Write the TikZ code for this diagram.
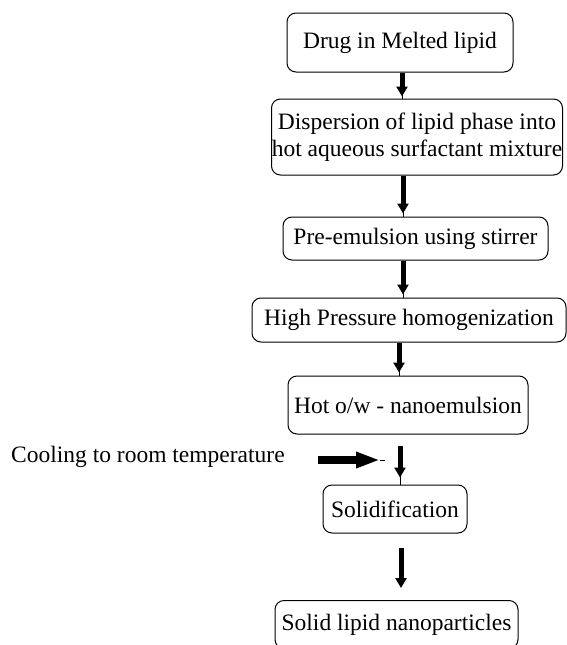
\documentclass[tikz,border=0pt]{standalone}
\usepackage{fontspec}
\setmainfont{Liberation Serif}
\usetikzlibrary{arrows.meta,calc}
\begin{document}
\begin{tikzpicture}[x=1pt,y=-1pt,
  txt/.style={font=\fontsize{23.5}{27}\selectfont},
  box/.style={txt, draw, line width=1pt, rounded corners=9pt, inner sep=0pt, align=center},
  fat/.style={line width=5pt, -{Triangle[width=11pt,length=10pt]}},
  fatter/.style={line width=8pt, -{Triangle[width=15pt,length=24pt]}},
  stub/.style={line width=1pt}]
\useasboundingbox (0,0) rectangle (567,645);
\node[box, minimum width=226pt, minimum height=59pt] (b1) at (400,42.5) {Drug in Melted lipid};
\node[box, minimum width=291pt, minimum height=76pt] (b2) at (417,137) {Dispersion of lipid phase into\\hot aqueous surfactant mixture};
\node[box, minimum width=265pt, minimum height=43pt] (b3) at (415.5,238.5) {Pre-emulsion using stirrer};
\node[box, minimum width=314pt, minimum height=44pt] (b4) at (409,320) {High Pressure homogenization};
\node[box, minimum width=240pt, minimum height=58pt] (b5) at (408,405) {Hot o/w - nanoemulsion};
\node[box, minimum width=144pt, minimum height=48pt] (b6) at (395,509) {Solidification};
\node[box, minimum width=243pt, minimum height=48pt, anchor=north] (b7) at (396.5,600) {Solid lipid nanoparticles};
\node[txt, inner sep=0pt, anchor=west] (cool) at (11,457) {Cooling to room temperature};
\coordinate (x1) at (402,0);
\coordinate (x2) at (403,0);
\coordinate (x4) at (399,0);
\coordinate (x5) at (400,0);
\coordinate (x6) at (401,0);
\coordinate (h1) at (385,460);
\coordinate (h0) at (380,460);
\draw[stub] (b1.south -| x1) -- (b2.north -| x1);
\draw[fat, shorten >=2pt] (b1.south -| x1) -- (b2.north -| x1);
\draw[stub] (b2.south -| x2) -- (b3.north -| x2);
\draw[fat, shorten >=3pt] (b2.south -| x2) -- (b3.north -| x2);
\draw[stub] (b3.south -| x2) -- (b4.north -| x2);
\draw[fat, shorten >=3pt] (b3.south -| x2) -- (b4.north -| x2);
\draw[stub] (b4.south -| x4) -- (b5.north -| x4);
\draw[fat, shorten >=3pt] (b4.south -| x4) -- (b5.north -| x4);
\draw[stub, shorten <=11pt] (b5.south -| x5) -- (b6.north -| x5);
\draw[fat, shorten <=11pt, shorten >=7pt] (b5.south -| x5) -- (b6.north -| x5);
\draw[fat, shorten <=14pt, shorten >=12pt] (b6.south -| x6) -- (b7.north -| x6);
\draw[fatter, shorten <=33pt] (cool.east |- h0) -- (h0);
\draw[stub] (h0) -- (h1);
\end{tikzpicture}
\end{document}
